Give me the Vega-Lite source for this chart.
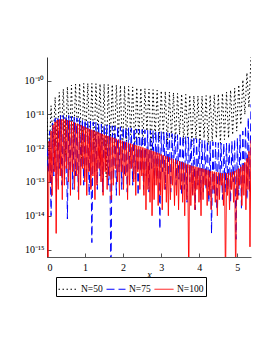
{
"$schema": "https://vega.github.io/schema/vega-lite/v6.json",
"width": 204, "height": 200,
"autosize": {"type": "none"},
"padding": {"left": 47, "top": 57, "right": 22, "bottom": 96},
"background": "white",
"config": {"view": {"stroke": null}, "font": "Liberation Serif"},
"datasets": {
"n50": [
{"s":"N=50","x":0,"y":8e-12},{"s":"N=50","x":0.054,"y":5e-13},{"s":"N=50","x":0.107,"y":1.8e-11},{"s":"N=50","x":0.161,"y":1.26e-12},{"s":"N=50","x":0.214,"y":3.2e-11},{"s":"N=50","x":0.268,"y":8e-13},{"s":"N=50","x":0.322,"y":4.5e-11},{"s":"N=50","x":0.375,"y":2e-12},{"s":"N=50","x":0.429,"y":5.6e-11},{"s":"N=50","x":0.482,"y":6.3e-13},
{"s":"N=50","x":0.536,"y":6.6e-11},{"s":"N=50","x":0.59,"y":1.6e-12},{"s":"N=50","x":0.643,"y":7.4e-11},{"s":"N=50","x":0.697,"y":1e-12},{"s":"N=50","x":0.75,"y":7.9e-11},{"s":"N=50","x":0.804,"y":2.5e-12},{"s":"N=50","x":0.858,"y":8.3e-11},{"s":"N=50","x":0.911,"y":5e-13},{"s":"N=50","x":0.965,"y":8.3e-11},{"s":"N=50","x":1.018,"y":2e-12},
{"s":"N=50","x":1.072,"y":8.3e-11},{"s":"N=50","x":1.126,"y":1.26e-12},{"s":"N=50","x":1.179,"y":8.2e-11},{"s":"N=50","x":1.233,"y":8e-13},{"s":"N=50","x":1.286,"y":8.1e-11},{"s":"N=50","x":1.34,"y":2.5e-12},{"s":"N=50","x":1.394,"y":8e-11},{"s":"N=50","x":1.447,"y":1.26e-12},{"s":"N=50","x":1.501,"y":7.9e-11},{"s":"N=50","x":1.554,"y":1.4e-13},
{"s":"N=50","x":1.608,"y":7.7e-11},{"s":"N=50","x":1.662,"y":1.6e-12},{"s":"N=50","x":1.715,"y":7.6e-11},{"s":"N=50","x":1.769,"y":1e-12},{"s":"N=50","x":1.822,"y":7.4e-11},{"s":"N=50","x":1.876,"y":2e-12},{"s":"N=50","x":1.93,"y":7.2e-11},{"s":"N=50","x":1.983,"y":6.3e-13},{"s":"N=50","x":2.037,"y":7e-11},{"s":"N=50","x":2.09,"y":1.6e-12},
{"s":"N=50","x":2.144,"y":6.8e-11},{"s":"N=50","x":2.198,"y":2.5e-12},{"s":"N=50","x":2.251,"y":6.5e-11},{"s":"N=50","x":2.305,"y":1e-12},{"s":"N=50","x":2.358,"y":6.2e-11},{"s":"N=50","x":2.412,"y":2e-12},{"s":"N=50","x":2.466,"y":6e-11},{"s":"N=50","x":2.519,"y":1.26e-12},{"s":"N=50","x":2.573,"y":5.8e-11},{"s":"N=50","x":2.626,"y":3.2e-12},
{"s":"N=50","x":2.68,"y":5.6e-11},{"s":"N=50","x":2.734,"y":8e-13},{"s":"N=50","x":2.787,"y":5.4e-11},{"s":"N=50","x":2.841,"y":2e-12},{"s":"N=50","x":2.894,"y":5.2e-11},{"s":"N=50","x":2.948,"y":1.6e-12},{"s":"N=50","x":3.002,"y":5e-11},{"s":"N=50","x":3.055,"y":2.5e-12},{"s":"N=50","x":3.109,"y":4.8e-11},{"s":"N=50","x":3.162,"y":1.26e-12},
{"s":"N=50","x":3.216,"y":4.6e-11},{"s":"N=50","x":3.27,"y":2e-12},{"s":"N=50","x":3.323,"y":4.4e-11},{"s":"N=50","x":3.377,"y":1.6e-12},{"s":"N=50","x":3.43,"y":4.2e-11},{"s":"N=50","x":3.484,"y":2.5e-12},{"s":"N=50","x":3.538,"y":4e-11},{"s":"N=50","x":3.591,"y":1.4e-12},{"s":"N=50","x":3.645,"y":3.9e-11},{"s":"N=50","x":3.698,"y":2e-12},
{"s":"N=50","x":3.752,"y":3.7e-11},{"s":"N=50","x":3.806,"y":1.26e-12},{"s":"N=50","x":3.859,"y":3.6e-11},{"s":"N=50","x":3.913,"y":1.8e-12},{"s":"N=50","x":3.966,"y":3.5e-11},{"s":"N=50","x":4.02,"y":1.4e-12},{"s":"N=50","x":4.074,"y":3.5e-11},{"s":"N=50","x":4.127,"y":2e-12},{"s":"N=50","x":4.181,"y":3.6e-11},{"s":"N=50","x":4.234,"y":1.26e-12},
{"s":"N=50","x":4.288,"y":3.7e-11},{"s":"N=50","x":4.342,"y":1.6e-12},{"s":"N=50","x":4.395,"y":3.8e-11},{"s":"N=50","x":4.449,"y":2e-12},{"s":"N=50","x":4.502,"y":4e-11},{"s":"N=50","x":4.556,"y":1.4e-12},{"s":"N=50","x":4.61,"y":4.2e-11},{"s":"N=50","x":4.663,"y":1.8e-12},{"s":"N=50","x":4.717,"y":4.6e-11},{"s":"N=50","x":4.77,"y":2e-12},
{"s":"N=50","x":4.824,"y":5.2e-11},{"s":"N=50","x":4.878,"y":2.5e-12},{"s":"N=50","x":4.931,"y":6e-11},{"s":"N=50","x":4.985,"y":3.2e-12},{"s":"N=50","x":5.038,"y":7.5e-11},{"s":"N=50","x":5.092,"y":5e-12},{"s":"N=50","x":5.146,"y":1.05e-10},{"s":"N=50","x":5.199,"y":1e-11},{"s":"N=50","x":5.253,"y":1.7e-10},{"s":"N=50","x":5.306,"y":1.6e-11},
{"s":"N=50","x":5.36,"y":5e-10}
],
"n75": [
{"s":"N=75","x":0,"y":1e-12},{"s":"N=75","x":0.036,"y":2e-13},{"s":"N=75","x":0.071,"y":3.2e-12},{"s":"N=75","x":0.107,"y":1e-14},{"s":"N=75","x":0.143,"y":5.6e-12},{"s":"N=75","x":0.179,"y":1.5e-13},{"s":"N=75","x":0.214,"y":7.6e-12},{"s":"N=75","x":0.25,"y":5e-14},{"s":"N=75","x":0.286,"y":8.7e-12},{"s":"N=75","x":0.322,"y":2.5e-13},
{"s":"N=75","x":0.357,"y":9.3e-12},{"s":"N=75","x":0.393,"y":8e-14},{"s":"N=75","x":0.429,"y":9.3e-12},{"s":"N=75","x":0.464,"y":1.2e-13},{"s":"N=75","x":0.5,"y":9.3e-12},{"s":"N=75","x":0.536,"y":8e-15},{"s":"N=75","x":0.572,"y":9.3e-12},{"s":"N=75","x":0.607,"y":2e-13},{"s":"N=75","x":0.643,"y":8.7e-12},{"s":"N=75","x":0.679,"y":6e-14},
{"s":"N=75","x":0.715,"y":8.3e-12},{"s":"N=75","x":0.75,"y":1.5e-13},{"s":"N=75","x":0.786,"y":7.9e-12},{"s":"N=75","x":0.822,"y":5e-14},{"s":"N=75","x":0.858,"y":7.6e-12},{"s":"N=75","x":0.893,"y":2.5e-13},{"s":"N=75","x":0.929,"y":7.2e-12},{"s":"N=75","x":0.965,"y":8e-14},{"s":"N=75","x":1.0,"y":6.9e-12},{"s":"N=75","x":1.036,"y":1.2e-13},
{"s":"N=75","x":1.072,"y":6.6e-12},{"s":"N=75","x":1.108,"y":4e-14},{"s":"N=75","x":1.143,"y":6.3e-12},{"s":"N=75","x":1.179,"y":1.6e-15},{"s":"N=75","x":1.215,"y":6e-12},{"s":"N=75","x":1.251,"y":2e-13},{"s":"N=75","x":1.286,"y":5.8e-12},{"s":"N=75","x":1.322,"y":6e-14},{"s":"N=75","x":1.358,"y":5.5e-12},{"s":"N=75","x":1.393,"y":1.5e-13},
{"s":"N=75","x":1.429,"y":5.2e-12},{"s":"N=75","x":1.465,"y":5e-14},{"s":"N=75","x":1.501,"y":5e-12},{"s":"N=75","x":1.536,"y":2.5e-13},{"s":"N=75","x":1.572,"y":4.9e-12},{"s":"N=75","x":1.608,"y":8e-14},{"s":"N=75","x":1.644,"y":4.8e-12},{"s":"N=75","x":1.679,"y":1e-16},{"s":"N=75","x":1.715,"y":4.6e-12},{"s":"N=75","x":1.751,"y":1.2e-13},
{"s":"N=75","x":1.787,"y":4.5e-12},{"s":"N=75","x":1.822,"y":4e-14},{"s":"N=75","x":1.858,"y":4.4e-12},{"s":"N=75","x":1.894,"y":2e-13},{"s":"N=75","x":1.929,"y":4.3e-12},{"s":"N=75","x":1.965,"y":6e-14},{"s":"N=75","x":2.001,"y":4.2e-12},{"s":"N=75","x":2.037,"y":1.5e-13},{"s":"N=75","x":2.072,"y":4.1e-12},{"s":"N=75","x":2.108,"y":5e-14},
{"s":"N=75","x":2.144,"y":4e-12},{"s":"N=75","x":2.18,"y":2.5e-13},{"s":"N=75","x":2.215,"y":3.9e-12},{"s":"N=75","x":2.251,"y":8e-14},{"s":"N=75","x":2.287,"y":3.8e-12},{"s":"N=75","x":2.322,"y":1.2e-13},{"s":"N=75","x":2.358,"y":3.7e-12},{"s":"N=75","x":2.394,"y":4e-14},{"s":"N=75","x":2.43,"y":3.6e-12},{"s":"N=75","x":2.465,"y":2e-13},
{"s":"N=75","x":2.501,"y":3.55e-12},{"s":"N=75","x":2.537,"y":6e-14},{"s":"N=75","x":2.573,"y":3.5e-12},{"s":"N=75","x":2.608,"y":1.5e-13},{"s":"N=75","x":2.644,"y":3.4e-12},{"s":"N=75","x":2.68,"y":5e-14},{"s":"N=75","x":2.715,"y":3.35e-12},{"s":"N=75","x":2.751,"y":2.5e-13},{"s":"N=75","x":2.787,"y":3.3e-12},{"s":"N=75","x":2.823,"y":8e-14},
{"s":"N=75","x":2.858,"y":3.2e-12},{"s":"N=75","x":2.894,"y":1.2e-13},{"s":"N=75","x":2.93,"y":3.15e-12},{"s":"N=75","x":2.966,"y":4e-15},{"s":"N=75","x":3.001,"y":3.1e-12},{"s":"N=75","x":3.037,"y":2e-13},{"s":"N=75","x":3.073,"y":3e-12},{"s":"N=75","x":3.108,"y":6e-14},{"s":"N=75","x":3.144,"y":2.9e-12},{"s":"N=75","x":3.18,"y":1.5e-13},
{"s":"N=75","x":3.216,"y":2.8e-12},{"s":"N=75","x":3.251,"y":5e-14},{"s":"N=75","x":3.287,"y":2.7e-12},{"s":"N=75","x":3.323,"y":2.5e-13},{"s":"N=75","x":3.359,"y":2.6e-12},{"s":"N=75","x":3.394,"y":8e-14},{"s":"N=75","x":3.43,"y":2.5e-12},{"s":"N=75","x":3.466,"y":1.2e-13},{"s":"N=75","x":3.502,"y":2.4e-12},{"s":"N=75","x":3.537,"y":4e-14},
{"s":"N=75","x":3.573,"y":2.3e-12},{"s":"N=75","x":3.609,"y":6e-14},{"s":"N=75","x":3.645,"y":2.2e-12},{"s":"N=75","x":3.68,"y":2.5e-14},{"s":"N=75","x":3.716,"y":2.1e-12},{"s":"N=75","x":3.752,"y":1e-13},{"s":"N=75","x":3.787,"y":2e-12},{"s":"N=75","x":3.823,"y":4e-14},{"s":"N=75","x":3.859,"y":1.95e-12},{"s":"N=75","x":3.895,"y":1.5e-14},
{"s":"N=75","x":3.93,"y":1.9e-12},{"s":"N=75","x":3.966,"y":8e-14},{"s":"N=75","x":4.002,"y":1.8e-12},{"s":"N=75","x":4.038,"y":3e-14},{"s":"N=75","x":4.073,"y":1.75e-12},{"s":"N=75","x":4.109,"y":5e-14},{"s":"N=75","x":4.145,"y":1.7e-12},{"s":"N=75","x":4.18,"y":6e-14},{"s":"N=75","x":4.216,"y":1.65e-12},{"s":"N=75","x":4.252,"y":2.5e-14},
{"s":"N=75","x":4.288,"y":1.6e-12},{"s":"N=75","x":4.323,"y":3e-15},{"s":"N=75","x":4.359,"y":1.55e-12},{"s":"N=75","x":4.395,"y":4e-14},{"s":"N=75","x":4.431,"y":1.5e-12},{"s":"N=75","x":4.466,"y":1.5e-14},{"s":"N=75","x":4.502,"y":1.45e-12},{"s":"N=75","x":4.538,"y":8e-14},{"s":"N=75","x":4.573,"y":1.42e-12},{"s":"N=75","x":4.609,"y":3e-14},
{"s":"N=75","x":4.645,"y":1.4e-12},{"s":"N=75","x":4.681,"y":5e-14},{"s":"N=75","x":4.716,"y":1.42e-12},{"s":"N=75","x":4.752,"y":6e-14},{"s":"N=75","x":4.788,"y":1.5e-12},{"s":"N=75","x":4.824,"y":2.5e-14},{"s":"N=75","x":4.859,"y":1.6e-12},{"s":"N=75","x":4.895,"y":1e-13},{"s":"N=75","x":4.931,"y":1.8e-12},{"s":"N=75","x":4.966,"y":2e-15},
{"s":"N=75","x":5.002,"y":2e-12},{"s":"N=75","x":5.038,"y":4e-14},{"s":"N=75","x":5.074,"y":2.5e-12},{"s":"N=75","x":5.109,"y":1.5e-14},{"s":"N=75","x":5.145,"y":3.2e-12},{"s":"N=75","x":5.181,"y":8e-14},{"s":"N=75","x":5.217,"y":4.5e-12},{"s":"N=75","x":5.252,"y":3e-14},{"s":"N=75","x":5.288,"y":8e-12},{"s":"N=75","x":5.324,"y":5e-14},
{"s":"N=75","x":5.36,"y":2e-11}
],
"n100": [
{"s":"N=100","x":0,"y":3e-13},{"s":"N=100","x":0.027,"y":1e-16},{"s":"N=100","x":0.054,"y":1.6e-12},{"s":"N=100","x":0.08,"y":1e-13},{"s":"N=100","x":0.107,"y":3.2e-12},{"s":"N=100","x":0.134,"y":4e-14},{"s":"N=100","x":0.161,"y":4.8e-12},{"s":"N=100","x":0.188,"y":2e-13},{"s":"N=100","x":0.214,"y":6e-12},{"s":"N=100","x":0.241,"y":3e-15},
{"s":"N=100","x":0.268,"y":6.8e-12},{"s":"N=100","x":0.295,"y":6e-14},{"s":"N=100","x":0.322,"y":7.1e-12},{"s":"N=100","x":0.348,"y":1.5e-13},{"s":"N=100","x":0.375,"y":7.1e-12},{"s":"N=100","x":0.402,"y":3e-14},{"s":"N=100","x":0.429,"y":7.1e-12},{"s":"N=100","x":0.456,"y":8e-14},{"s":"N=100","x":0.482,"y":7e-12},{"s":"N=100","x":0.509,"y":2.5e-13},
{"s":"N=100","x":0.536,"y":6.8e-12},{"s":"N=100","x":0.563,"y":1e-13},{"s":"N=100","x":0.59,"y":6.5e-12},{"s":"N=100","x":0.616,"y":4e-14},{"s":"N=100","x":0.643,"y":6.2e-12},{"s":"N=100","x":0.67,"y":2e-13},{"s":"N=100","x":0.697,"y":5.9e-12},{"s":"N=100","x":0.724,"y":6e-14},{"s":"N=100","x":0.75,"y":5.6e-12},{"s":"N=100","x":0.777,"y":1.5e-13},
{"s":"N=100","x":0.804,"y":5.3e-12},{"s":"N=100","x":0.831,"y":3e-14},{"s":"N=100","x":0.858,"y":5e-12},{"s":"N=100","x":0.884,"y":8e-14},{"s":"N=100","x":0.911,"y":4.7e-12},{"s":"N=100","x":0.938,"y":2.5e-13},{"s":"N=100","x":0.965,"y":4.4e-12},{"s":"N=100","x":0.992,"y":1e-13},{"s":"N=100","x":1.018,"y":4.1e-12},{"s":"N=100","x":1.045,"y":4e-14},
{"s":"N=100","x":1.072,"y":3.9e-12},{"s":"N=100","x":1.099,"y":2e-13},{"s":"N=100","x":1.126,"y":3.7e-12},{"s":"N=100","x":1.152,"y":6e-14},{"s":"N=100","x":1.179,"y":3.5e-12},{"s":"N=100","x":1.206,"y":1.5e-13},{"s":"N=100","x":1.233,"y":3.3e-12},{"s":"N=100","x":1.26,"y":3e-14},{"s":"N=100","x":1.286,"y":3.1e-12},{"s":"N=100","x":1.313,"y":8e-14},
{"s":"N=100","x":1.34,"y":2.95e-12},{"s":"N=100","x":1.367,"y":2.5e-13},{"s":"N=100","x":1.394,"y":2.8e-12},{"s":"N=100","x":1.42,"y":1e-13},{"s":"N=100","x":1.447,"y":2.65e-12},{"s":"N=100","x":1.474,"y":4e-14},{"s":"N=100","x":1.501,"y":2.5e-12},{"s":"N=100","x":1.528,"y":2e-13},{"s":"N=100","x":1.554,"y":2.4e-12},{"s":"N=100","x":1.581,"y":6e-14},
{"s":"N=100","x":1.608,"y":2.3e-12},{"s":"N=100","x":1.635,"y":1.5e-13},{"s":"N=100","x":1.662,"y":2.2e-12},{"s":"N=100","x":1.688,"y":3e-14},{"s":"N=100","x":1.715,"y":2.1e-12},{"s":"N=100","x":1.742,"y":8e-14},{"s":"N=100","x":1.769,"y":2e-12},{"s":"N=100","x":1.796,"y":2.5e-13},{"s":"N=100","x":1.822,"y":1.9e-12},{"s":"N=100","x":1.849,"y":1e-13},
{"s":"N=100","x":1.876,"y":1.8e-12},{"s":"N=100","x":1.903,"y":4e-14},{"s":"N=100","x":1.93,"y":1.72e-12},{"s":"N=100","x":1.956,"y":2e-13},{"s":"N=100","x":1.983,"y":1.64e-12},{"s":"N=100","x":2.01,"y":6e-14},{"s":"N=100","x":2.037,"y":1.56e-12},{"s":"N=100","x":2.064,"y":1.5e-13},{"s":"N=100","x":2.09,"y":1.5e-12},{"s":"N=100","x":2.117,"y":3e-14},
{"s":"N=100","x":2.144,"y":1.43e-12},{"s":"N=100","x":2.171,"y":8e-14},{"s":"N=100","x":2.198,"y":1.37e-12},{"s":"N=100","x":2.224,"y":2.5e-13},{"s":"N=100","x":2.251,"y":1.3e-12},{"s":"N=100","x":2.278,"y":1e-13},{"s":"N=100","x":2.305,"y":1.25e-12},{"s":"N=100","x":2.332,"y":4e-14},{"s":"N=100","x":2.358,"y":1.2e-12},{"s":"N=100","x":2.385,"y":2e-13},
{"s":"N=100","x":2.412,"y":1.15e-12},{"s":"N=100","x":2.439,"y":6e-14},{"s":"N=100","x":2.466,"y":1.1e-12},{"s":"N=100","x":2.492,"y":1.5e-13},{"s":"N=100","x":2.519,"y":1.05e-12},{"s":"N=100","x":2.546,"y":4e-14},{"s":"N=100","x":2.573,"y":1e-12},{"s":"N=100","x":2.6,"y":1.5e-14},{"s":"N=100","x":2.626,"y":9.5e-13},{"s":"N=100","x":2.653,"y":6e-14},
{"s":"N=100","x":2.68,"y":9e-13},{"s":"N=100","x":2.707,"y":2.5e-14},{"s":"N=100","x":2.734,"y":8.6e-13},{"s":"N=100","x":2.76,"y":1e-14},{"s":"N=100","x":2.787,"y":8.2e-13},{"s":"N=100","x":2.814,"y":3e-14},{"s":"N=100","x":2.841,"y":7.8e-13},{"s":"N=100","x":2.868,"y":8e-14},{"s":"N=100","x":2.894,"y":7.4e-13},{"s":"N=100","x":2.921,"y":2e-14},
{"s":"N=100","x":2.948,"y":7e-13},{"s":"N=100","x":2.975,"y":4e-14},{"s":"N=100","x":3.002,"y":6.6e-13},{"s":"N=100","x":3.028,"y":1.5e-14},{"s":"N=100","x":3.055,"y":6.2e-13},{"s":"N=100","x":3.082,"y":6e-14},{"s":"N=100","x":3.109,"y":5.9e-13},{"s":"N=100","x":3.136,"y":2.5e-14},{"s":"N=100","x":3.162,"y":5.6e-13},{"s":"N=100","x":3.189,"y":1e-14},
{"s":"N=100","x":3.216,"y":5.3e-13},{"s":"N=100","x":3.243,"y":3e-14},{"s":"N=100","x":3.27,"y":5e-13},{"s":"N=100","x":3.296,"y":8e-14},{"s":"N=100","x":3.323,"y":4.7e-13},{"s":"N=100","x":3.35,"y":2e-14},{"s":"N=100","x":3.377,"y":4.5e-13},{"s":"N=100","x":3.404,"y":4e-14},{"s":"N=100","x":3.43,"y":4.3e-13},{"s":"N=100","x":3.457,"y":1.5e-14},
{"s":"N=100","x":3.484,"y":4.1e-13},{"s":"N=100","x":3.511,"y":6e-14},{"s":"N=100","x":3.538,"y":3.9e-13},{"s":"N=100","x":3.564,"y":2.5e-14},{"s":"N=100","x":3.591,"y":3.7e-13},{"s":"N=100","x":3.618,"y":1e-14},{"s":"N=100","x":3.645,"y":3.5e-13},{"s":"N=100","x":3.672,"y":3e-14},{"s":"N=100","x":3.698,"y":3.3e-13},{"s":"N=100","x":3.725,"y":1e-16},
{"s":"N=100","x":3.752,"y":3.2e-13},{"s":"N=100","x":3.779,"y":2e-14},{"s":"N=100","x":3.806,"y":3e-13},{"s":"N=100","x":3.832,"y":4e-14},{"s":"N=100","x":3.859,"y":2.9e-13},{"s":"N=100","x":3.886,"y":1.5e-14},{"s":"N=100","x":3.913,"y":2.8e-13},{"s":"N=100","x":3.94,"y":6e-14},{"s":"N=100","x":3.966,"y":2.7e-13},{"s":"N=100","x":3.993,"y":2.5e-14},
{"s":"N=100","x":4.02,"y":2.6e-13},{"s":"N=100","x":4.047,"y":1e-14},{"s":"N=100","x":4.074,"y":2.5e-13},{"s":"N=100","x":4.1,"y":3e-14},{"s":"N=100","x":4.127,"y":2.4e-13},{"s":"N=100","x":4.154,"y":8e-14},{"s":"N=100","x":4.181,"y":2.3e-13},{"s":"N=100","x":4.208,"y":2e-14},{"s":"N=100","x":4.234,"y":2.2e-13},{"s":"N=100","x":4.261,"y":4e-14},
{"s":"N=100","x":4.288,"y":2.1e-13},{"s":"N=100","x":4.315,"y":1.5e-14},{"s":"N=100","x":4.342,"y":2.05e-13},{"s":"N=100","x":4.368,"y":6e-14},{"s":"N=100","x":4.395,"y":2e-13},{"s":"N=100","x":4.422,"y":2.5e-14},{"s":"N=100","x":4.449,"y":1.95e-13},{"s":"N=100","x":4.476,"y":1e-14},{"s":"N=100","x":4.502,"y":1.9e-13},{"s":"N=100","x":4.529,"y":3e-14},
{"s":"N=100","x":4.556,"y":1.85e-13},{"s":"N=100","x":4.583,"y":8e-14},{"s":"N=100","x":4.61,"y":1.8e-13},{"s":"N=100","x":4.636,"y":2e-14},{"s":"N=100","x":4.663,"y":1.8e-13},{"s":"N=100","x":4.69,"y":1e-16},{"s":"N=100","x":4.717,"y":1.8e-13},{"s":"N=100","x":4.744,"y":4e-14},{"s":"N=100","x":4.77,"y":1.85e-13},{"s":"N=100","x":4.797,"y":1.5e-14},
{"s":"N=100","x":4.824,"y":1.9e-13},{"s":"N=100","x":4.851,"y":6e-14},{"s":"N=100","x":4.878,"y":2e-13},{"s":"N=100","x":4.904,"y":2.5e-14},{"s":"N=100","x":4.931,"y":2.1e-13},{"s":"N=100","x":4.958,"y":1e-16},{"s":"N=100","x":4.985,"y":2.3e-13},{"s":"N=100","x":5.012,"y":3e-14},{"s":"N=100","x":5.038,"y":2.5e-13},{"s":"N=100","x":5.065,"y":8e-14},
{"s":"N=100","x":5.092,"y":2.8e-13},{"s":"N=100","x":5.119,"y":2e-14},{"s":"N=100","x":5.146,"y":3.2e-13},{"s":"N=100","x":5.172,"y":4e-14},{"s":"N=100","x":5.199,"y":3.8e-13},{"s":"N=100","x":5.226,"y":1.5e-14},{"s":"N=100","x":5.253,"y":5e-13},{"s":"N=100","x":5.28,"y":6e-14},{"s":"N=100","x":5.306,"y":8e-13},{"s":"N=100","x":5.333,"y":1.2e-15},
{"s":"N=100","x":5.36,"y":1.7e-12}
]
},
"encoding": {
"x": {"field": "x", "type": "quantitative",
 "scale": {"domain": [0, 5.36], "nice": false, "zero": false},
 "axis": {"values": [0,1,2,3,4,5], "format": "d", "grid": false, "domainColor": "#555", "tickColor": "#555", "tickSize": -4, "labelFont": "Liberation Serif", "labelFontSize": 10, "labelColor": "#000", "labelPadding": 9, "title": "x", "titleFont": "Liberation Serif", "titleFontStyle": "italic", "titleFontWeight": "normal", "titleFontSize": 10, "titleColor": "#000", "titlePadding": -3}},
"y": {"field": "y", "type": "quantitative",
 "scale": {"type": "log", "domain": [6e-16, 5e-10], "nice": false},
 "axis": {"values": [1e-15,1e-14,1e-13,1e-12,1e-11,1e-10], "labelExpr": "datum.value > 5e-11 ? '10⁻¹⁰' : datum.value > 5e-12 ? '10⁻¹¹' : datum.value > 5e-13 ? '10⁻¹²' : datum.value > 5e-14 ? '10⁻¹³' : datum.value > 5e-15 ? '10⁻¹⁴' : '10⁻¹⁵'", "grid": false, "domainColor": "#333", "tickColor": "#555", "tickSize": -4, "labelFont": "Liberation Serif", "labelFontSize": 10, "labelColor": "#000", "labelPadding": 7, "title": null}},
"color": {"field": "s", "type": "nominal",
 "scale": {"domain": ["N=50","N=75","N=100"], "range": ["#000000","#0000ff","#ff0000"]},
 "legend": {"orient": "none", "legendX": 9, "legendY": 220, "direction": "horizontal", "title": null, "symbolType": "stroke", "symbolSize": 361, "symbolStrokeWidth": 1, "labelFont": "Liberation Serif", "labelFontSize": 9.5, "labelColor": "#000", "labelOffset": 3, "columnPadding": 1, "padding": 2, "strokeColor": "#000", "cornerRadius": 0}},
"strokeDash": {"field": "s", "type": "nominal",
 "scale": {"domain": ["N=50","N=75","N=100"], "range": [[1.5,2.5],[8,4],[1,0]]},
 "legend": {"orient": "none", "legendX": 9, "legendY": 220, "direction": "horizontal", "title": null, "symbolType": "stroke", "symbolSize": 361, "symbolStrokeWidth": 1, "labelFont": "Liberation Serif", "labelFontSize": 9.5, "labelColor": "#000", "labelOffset": 3, "columnPadding": 1, "padding": 2, "strokeColor": "#000", "cornerRadius": 0}}
},
"layer": [
{"data": {"name": "n50"}, "mark": {"type": "line", "strokeWidth": 1, "clip": true}},
{"data": {"name": "n75"}, "mark": {"type": "line", "strokeWidth": 1, "clip": true}},
{"data": {"name": "n100"}, "mark": {"type": "line", "strokeWidth": 1, "clip": true}}
]
}
